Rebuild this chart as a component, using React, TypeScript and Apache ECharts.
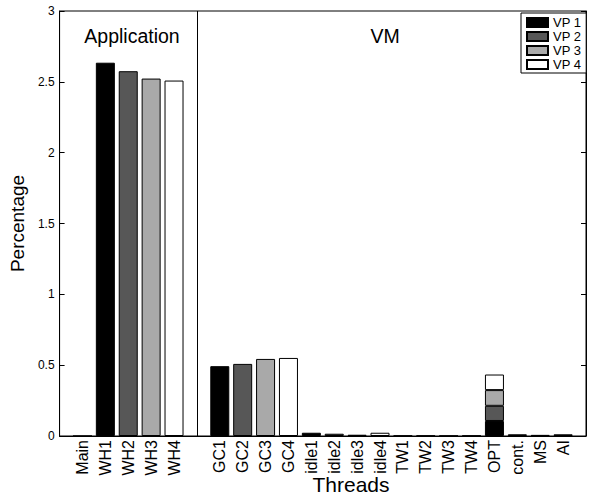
import React, { useEffect, useRef } from "react";
import * as echarts from "echarts";

const categories = [
  "", "Main", "WH1", "WH2", "WH3", "WH4", " ",
  "GC1", "GC2", "GC3", "GC4",
  "idle1", "idle2", "idle3", "idle4",
  "TW1", "TW2", "TW3", "TW4",
  "OPT", "cont.", "MS", "AI", "  ",
];

const seriesNames = ["VP 1", "VP 2", "VP 3", "VP 4"];
const seriesColors = ["#000000", "#575757", "#a9a9a9", "#ffffff"];

const vp1 = [null, 0, 2.635, null, null, null, null, 0.493, null, null, null, 0.023, null, null, null, 0.003, null, null, null, 0.106, 0.012, 0.008, 0.012, null];
const vp2 = [null, null, null, 2.575, null, null, null, null, 0.509, null, null, null, 0.016, null, null, null, 0.003, null, null, 0.107, null, null, null, null];
const vp3 = [null, null, null, null, 2.523, null, null, null, null, 0.544, null, null, null, 0.009, null, null, null, 0.002, null, 0.111, null, null, null, null];
const vp4 = [null, null, null, null, null, 2.509, null, null, null, null, 0.551, null, null, null, 0.023, null, null, null, 0.003, 0.110, null, null, null, null];

const dividerIndex = 6;
const yTicks = { min: 0, max: 3, interval: 0.5 };
const groupLabels = ["Application", "VM"];

const FONT = "Liberation Sans, Arial, Helvetica, sans-serif";

export default function App() {
  const ref = useRef<HTMLDivElement>(null);

  useEffect(() => {
    if (!ref.current) return;
    const chart = echarts.init(ref.current, undefined, { renderer: "svg" });
    const values = [vp1, vp2, vp3, vp4];
    const series: any[] = values.map((d, i) => ({
      name: seriesNames[i],
      type: "bar",
      stack: "total",
      barWidth: 19,
      data: d,
      itemStyle: { color: seriesColors[i], borderColor: "#000", borderWidth: 1 },
      emphasis: { disabled: true },
      ...(i === 0
        ? {
            markLine: {
              silent: true,
              symbol: ["none", "none"],
              label: { show: false },
              lineStyle: { color: "#000", width: 1, type: "solid" },
              data: [{ xAxis: dividerIndex }],
            },
          }
        : {}),
    }));

    chart.setOption({
      animation: false,
      backgroundColor: "#fff",
      textStyle: { fontFamily: FONT },
      grid: {
        left: 55,
        right: -1,
        top: 11,
        bottom: 59,
        show: true,
        borderColor: "#000",
        borderWidth: 1,
      },
      legend: {
        orient: "vertical",
        left: 521,
        top: 13,
        data: seriesNames,
        icon: "rect",
        itemWidth: 21,
        itemHeight: 9,
        itemGap: 1,
        padding: [3, 5, 2, 5],
        borderColor: "#000",
        borderWidth: 1,
        backgroundColor: "#fff",
        selectedMode: false,
        textStyle: { fontSize: 13, color: "#000", fontFamily: FONT, lineHeight: 13 },
      },
      xAxis: {
        type: "category",
        data: categories,
        boundaryGap: false,
        axisLine: { show: true, lineStyle: { color: "#000" } },
        axisTick: { show: false },
        axisLabel: {
          interval: 0,
          rotate: 90,
          fontSize: 16,
          color: "#000",
          margin: 4,
          fontFamily: FONT,
        },
      },
      yAxis: [
        {
          type: "value",
          ...yTicks,
          name: "Percentage",
          nameLocation: "middle",
          nameGap: 28,
          nameTextStyle: { fontSize: 19, color: "#000", fontFamily: FONT },
          axisLine: { show: true, lineStyle: { color: "#000" } },
          axisTick: { show: true, inside: true, length: 5, lineStyle: { color: "#000" } },
          axisLabel: { fontSize: 12, color: "#000", margin: 5, fontFamily: FONT },
          splitLine: { show: false },
        },
        {
          type: "value",
          ...yTicks,
          position: "right",
          axisLine: { show: true, lineStyle: { color: "#000" } },
          axisTick: { show: true, inside: true, length: 5, lineStyle: { color: "#000" } },
          axisLabel: { show: false },
          splitLine: { show: false },
        },
      ],
      graphic: [
        {
          type: "text",
          x: 132,
          y: 35.5,
          style: { text: groupLabels[0], fill: "#000", font: `19.5px ${FONT}`, textAlign: "center", textVerticalAlign: "middle" },
        },
        {
          type: "text",
          x: 385,
          y: 35.5,
          style: { text: groupLabels[1], fill: "#000", font: `19.5px ${FONT}`, textAlign: "center", textVerticalAlign: "middle" },
        },
        {
          type: "text",
          x: 351,
          y: 484.5,
          style: { text: "Threads", fill: "#000", font: `21px ${FONT}`, textAlign: "center", textVerticalAlign: "middle" },
        },
      ],
      series,
    });
    return () => chart.dispose();
  }, []);

  return (
    <div
      ref={ref}
      style={{ position: "fixed", left: 0, top: 0, width: 594, height: 495, background: "#fff" }}
    />
  );
}
